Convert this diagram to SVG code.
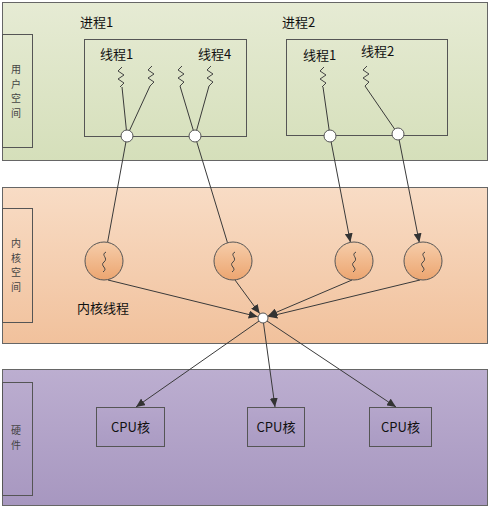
<svg xmlns="http://www.w3.org/2000/svg" width="492" height="511" viewBox="0 0 492 511">
<defs>
<linearGradient id="gGreen" x1="0" y1="0" x2="0" y2="1"><stop offset="0" stop-color="#e6ebd4"/><stop offset="1" stop-color="#d5dfba"/></linearGradient>
<linearGradient id="gPeach" x1="0" y1="0" x2="0" y2="1"><stop offset="0" stop-color="#f8dcc5"/><stop offset="1" stop-color="#f1c19c"/></linearGradient>
<linearGradient id="gPurple" x1="0" y1="0" x2="0" y2="1"><stop offset="0" stop-color="#bcaed0"/><stop offset="1" stop-color="#a797c0"/></linearGradient>
<linearGradient id="gBall" x1="0" y1="0" x2="0" y2="1"><stop offset="0" stop-color="#f6cdaa"/><stop offset="1" stop-color="#eca570"/></linearGradient>
<linearGradient id="gCpu" x1="0" y1="0" x2="0" y2="1"><stop offset="0" stop-color="#b5a6cb"/><stop offset="1" stop-color="#aa9bc3"/></linearGradient>
<marker id="arr" markerWidth="10" markerHeight="8" refX="9" refY="4" orient="auto" markerUnits="userSpaceOnUse"><path d="M0,0 L9,4 L0,8 z" fill="#333"/></marker>
<path id="sq" d="M1,0 L-3,4 L3,8 L-3,12 L3,16 L-1,20" fill="none" stroke="#444" stroke-width="1" stroke-linejoin="round"/>
<path id="ksq" d="M2,-10 C-4,-7 5,-4 0,0 C-5,4 5,6 -1,10" fill="none" stroke="#444" stroke-width="1"/>
</defs>
<style>
.band{stroke:#666;stroke-width:1}
.tab{fill:none;stroke:#555;stroke-width:1}
.box{fill:none;stroke:#555;stroke-width:1}
.cpu{fill:url(#gCpu);stroke:#555;stroke-width:1}
.port{fill:#fff;stroke:#555;stroke-width:1}
.ball{fill:url(#gBall);stroke:#555;stroke-width:1}
.ln{stroke:#3a3a3a;stroke-width:1;fill:none}
.t{font-family:"Noto Sans CJK SC","Noto Sans",sans-serif;fill:#111}
.v{font-family:"Noto Sans CJK SC","Noto Sans",sans-serif;fill:#444;font-size:10px;text-anchor:middle}
</style>

<g id="user-space">
<rect class="band" x="2.5" y="2.5" width="485" height="158" fill="url(#gGreen)"/>
<rect class="tab" x="2.5" y="34.5" width="30" height="113"/>
<text class="v" x="16" y="73">用</text>
<text class="v" x="16" y="87.5">户</text>
<text class="v" x="16" y="102">空</text>
<text class="v" x="16" y="116.5">间</text>
</g>
<g id="kernel-space">
<rect class="band" x="2.5" y="187.5" width="485" height="156" fill="url(#gPeach)"/>
<rect class="tab" x="2.5" y="208.5" width="30" height="114"/>
<text class="v" x="16" y="247">内</text>
<text class="v" x="16" y="261.5">核</text>
<text class="v" x="16" y="276">空</text>
<text class="v" x="16" y="290.5">间</text>
<text class="t" x="77" y="313" font-size="13">内核线程</text>
</g>
<g id="hardware">
<rect class="band" x="2.5" y="369.5" width="485" height="136" fill="url(#gPurple)"/>
<rect class="tab" x="2.5" y="382.5" width="30" height="113"/>
<text class="v" x="16" y="434">硬</text>
<text class="v" x="16" y="448.5">件</text>
</g>

<g id="process1">
<text class="t" x="80" y="27" font-size="13">进程1</text>
<rect class="box" x="84.5" y="39.5" width="162" height="97"/>
<text class="t" x="100" y="59" font-size="13">线程1</text>
<text class="t" x="198" y="59" font-size="13">线程4</text>
<use href="#sq" x="121" y="67"/>
<use href="#sq" x="151" y="66"/>
<use href="#sq" x="181" y="66"/>
<use href="#sq" x="210" y="66"/>
</g>
<g id="process2">
<text class="t" x="282" y="27" font-size="13">进程2</text>
<rect class="box" x="286.5" y="39.5" width="161" height="96"/>
<text class="t" x="303" y="60" font-size="13">线程1</text>
<text class="t" x="361" y="56" font-size="13">线程2</text>
<use href="#sq" x="323" y="67"/>
<use href="#sq" x="366" y="66"/>
</g>

<g id="cpu1"><rect class="cpu" x="96.5" y="407.5" width="68" height="39"/><text class="t" x="130.5" y="432" font-size="13" text-anchor="middle">CPU核</text></g>
<g id="cpu2"><rect class="cpu" x="247.5" y="407.5" width="57" height="39"/><text class="t" x="276" y="432" font-size="13" text-anchor="middle">CPU核</text></g>
<g id="cpu3"><rect class="cpu" x="369.5" y="407.5" width="62" height="39"/><text class="t" x="400.5" y="432" font-size="13" text-anchor="middle">CPU核</text></g>

<g id="connectors">
<line class="ln" x1="122" y1="87" x2="127" y2="136"/>
<line class="ln" x1="150" y1="86" x2="127" y2="136"/>
<line class="ln" x1="180" y1="86" x2="195" y2="136"/>
<line class="ln" x1="209" y1="86" x2="195" y2="136"/>
<line class="ln" x1="323" y1="87" x2="330" y2="136"/>
<line class="ln" x1="365" y1="86" x2="398" y2="134"/>
<line class="ln" x1="127" y1="136" x2="107.6" y2="242.3"/>
<line class="ln" x1="195" y1="136" x2="227.5" y2="242.8"/>
<line class="ln" x1="330" y1="136" x2="350.4" y2="242.3" marker-end="url(#arr)"/>
<line class="ln" x1="398" y1="134" x2="419.3" y2="242.4" marker-end="url(#arr)"/>
<line class="ln" x1="108" y1="280" x2="257.7" y2="316.7" marker-end="url(#arr)"/>
<line class="ln" x1="235" y1="280" x2="259.7" y2="313.6" marker-end="url(#arr)"/>
<line class="ln" x1="352" y1="280" x2="268.1" y2="315.8" marker-end="url(#arr)"/>
<line class="ln" x1="420" y1="280" x2="268.3" y2="316.7" marker-end="url(#arr)"/>
<line class="ln" x1="259" y1="321" x2="136" y2="407" marker-end="url(#arr)"/>
<line class="ln" x1="263.5" y1="323" x2="275" y2="407" marker-end="url(#arr)"/>
<line class="ln" x1="267" y1="321" x2="396" y2="407" marker-end="url(#arr)"/>
</g>

<g id="ports">
<circle class="port" cx="127" cy="136" r="6"/>
<circle class="port" cx="195" cy="136" r="6"/>
<circle class="port" cx="330" cy="136" r="6"/>
<circle class="port" cx="398" cy="134" r="6"/>
</g>
<g id="kthread1"><circle class="ball" cx="104" cy="261" r="19"/><use href="#ksq" x="104" y="262"/></g>
<g id="kthread2"><circle class="ball" cx="233" cy="261" r="19"/><use href="#ksq" x="233" y="262"/></g>
<g id="kthread3"><circle class="ball" cx="354" cy="261" r="19"/><use href="#ksq" x="354" y="262"/></g>
<g id="kthread4"><circle class="ball" cx="423" cy="261" r="19"/><use href="#ksq" x="423" y="262"/></g>
<g id="hub"><circle class="port" cx="263" cy="318" r="5"/></g>
</svg>
